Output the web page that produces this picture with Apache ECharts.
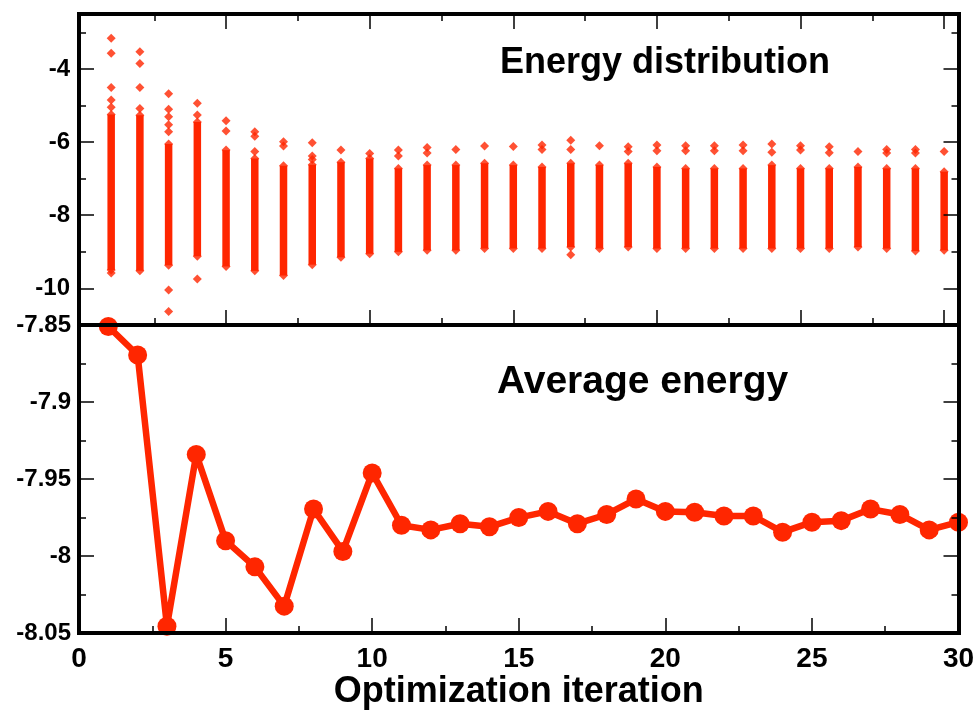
<!DOCTYPE html>
<html>
<head>
<meta charset="utf-8">
<script src="https://cdn.jsdelivr.net/npm/echarts@6/dist/echarts.min.js"></script>
<style>
  html, body { margin: 0; padding: 0; background: #fff; }
  #chart { width: 978px; height: 711px; }
</style>
</head>
<body>
<div id="chart"></div>
<script>
// ---------- data ----------
const iterations = [1,2,3,4,5,6,7,8,9,10,11,12,13,14,15,16,17,18,19,20,21,22,23,24,25,26,27,28,29,30];

// Average energy per iteration (bottom panel)
const avgEnergy = [-7.851, -7.8695, -8.0455, -7.934, -7.990, -8.007, -8.0325, -7.9695, -7.997, -7.946,
                   -7.980, -7.983, -7.979, -7.981, -7.975, -7.971, -7.979, -7.973, -7.963, -7.971,
                   -7.9715, -7.974, -7.974, -7.9845, -7.978, -7.977, -7.9695, -7.973, -7.983, -7.978];

// Energy distribution (top panel): dense band of samples per iteration (top / bottom of band)
const bandHi = [-5.25, -5.27, -6.05, -5.45, -6.22, -6.45, -6.65, -6.62, -6.55, -6.45,
                -6.72, -6.63, -6.63, -6.58, -6.63, -6.68, -6.58, -6.63, -6.58, -6.68,
                -6.72, -6.72, -6.72, -6.63, -6.72, -6.72, -6.68, -6.72, -6.72, -6.81];
const bandLo = [-9.50, -9.52, -9.37, -9.12, -9.40, -9.52, -9.65, -9.35, -9.15, -9.05,
                -9.00, -8.96, -8.96, -8.91, -8.91, -8.91, -8.87, -8.91, -8.87, -8.91,
                -8.91, -8.91, -8.91, -8.91, -8.91, -8.91, -8.87, -8.91, -8.98, -8.96];

// isolated samples outside the dense band: [iteration, energy]
const outliers = [
  [1,-3.16],[1,-3.57],[1,-4.51],[1,-4.85],[1,-5.05],[1,-9.58],
  [2,-3.53],[2,-3.85],[2,-4.51],[2,-5.08],
  [3,-4.68],[3,-5.10],[3,-5.31],[3,-5.53],[3,-5.72],[3,-10.04],[3,-10.63],
  [4,-4.94],[4,-5.26],[4,-9.74],
  [5,-5.42],[5,-5.70],
  [6,-5.72],[6,-5.84],[6,-6.26],
  [7,-5.99],[7,-6.11],
  [8,-6.02],[8,-6.38],[8,-6.48],
  [9,-6.22],
  [10,-6.31],
  [11,-6.22],[11,-6.38],
  [12,-6.15],[12,-6.30],
  [13,-6.20],
  [14,-6.11],
  [15,-6.12],
  [16,-6.08],[16,-6.20],
  [17,-5.95],[17,-6.20],[17,-9.08],
  [18,-6.10],
  [19,-6.13],[19,-6.26],
  [20,-6.08],[20,-6.24],
  [21,-6.10],[21,-6.24],
  [22,-6.10],[22,-6.24],
  [23,-6.08],[23,-6.24],
  [24,-6.05],[24,-6.28],
  [25,-6.10],[25,-6.22],
  [26,-6.13],[26,-6.29],
  [27,-6.26],
  [28,-6.20],[28,-6.30],
  [29,-6.20],[29,-6.30],
  [30,-6.26]
];

// tick values
const topXMajor = [5,10,15,20,25,30];
const topXMinor = [2.5,7.5,12.5,17.5,22.5,27.5];
const topYMajor = [-10,-8,-6,-4];
const topYMinor = [-9,-7,-5,-3];

// ---------- styling ----------
const RED = '#ff2600';
const FONT = 'Liberation Sans, Arial, sans-serif';
const lineStyle = { color: '#000', width: 4, cap: 'square' };

function topX(position, ticks, len, showLine) {
  return {
    type: 'value', gridIndex: 0, position: position, min: -0.12, max: 30.5,
    z: 5,
    axisLine: { show: showLine, onZero: false, lineStyle: lineStyle },
    axisTick: { show: true, inside: true, length: len, customValues: ticks, lineStyle: { color: '#000', width: 1.5 } },
    axisLabel: { show: false },
    splitLine: { show: false }
  };
}
function topY(position, ticks, len, showLine, showLabel) {
  return {
    type: 'value', gridIndex: 0, position: position, min: -11, max: -2.5,
    z: 5,
    axisLine: { show: showLine, onZero: false, lineStyle: lineStyle },
    axisTick: { show: true, inside: true, length: len, customValues: ticks, lineStyle: { color: '#000', width: 1.5 } },
    axisLabel: showLabel ? { show: true, customValues: ticks, margin: 9, fontFamily: FONT, fontWeight: 'bold', fontSize: 24, color: '#000' } : { show: false },
    splitLine: { show: false }
  };
}
function botY(position, showLabel) {
  return {
    type: 'value', gridIndex: 1, position: position, min: -8.05, max: -7.85, interval: 0.05,
    z: 5,
    axisLine: { show: true, onZero: false, lineStyle: lineStyle },
    axisTick: { show: true, inside: true, length: 15, lineStyle: { color: '#000', width: 1.5 } },
    minorTick: { show: true, splitNumber: 2, length: 7, lineStyle: { color: '#000', width: 1.5 } },
    axisLabel: showLabel ? { show: true, margin: 8, fontFamily: FONT, fontWeight: 'bold', fontSize: 24, color: '#000' } : { show: false },
    splitLine: { show: false }, minorSplitLine: { show: false }
  };
}

const chart = echarts.init(document.getElementById('chart'), null, { renderer: 'canvas' });

const option = {
  backgroundColor: '#fff',
  animation: false,
  title: [
    { text: 'Energy distribution', left: 500, top: 45, padding: 0,
      textStyle: { fontFamily: FONT, fontWeight: 'bold', fontSize: 36, color: '#000' } },
    { text: 'Average energy', left: 497, top: 363, padding: 0,
      textStyle: { fontFamily: FONT, fontWeight: 'bold', fontSize: 39, color: '#000' } }
  ],
  grid: [
    { left: 79, top: 14, width: 879.5, height: 311, containLabel: false },
    { left: 79, top: 325, width: 879.5, height: 309, containLabel: false }
  ],
  xAxis: [
    topX('bottom', topXMajor, 15, true),
    topX('bottom', topXMinor, 7, false),
    topX('top', topXMajor, 15, true),
    topX('top', topXMinor, 7, false),
    {
      type: 'value', gridIndex: 1, position: 'bottom', min: 0, max: 30, interval: 5,
      z: 5,
      axisLine: { show: true, onZero: false, lineStyle: lineStyle },
      axisTick: { show: true, inside: true, length: 15, lineStyle: { color: '#000', width: 1.5 } },
      minorTick: { show: true, splitNumber: 2, length: 7, lineStyle: { color: '#000', width: 1.5 } },
      axisLabel: { show: true, margin: 12, fontFamily: FONT, fontWeight: 'bold', fontSize: 28, color: '#000' },
      splitLine: { show: false }, minorSplitLine: { show: false },
      name: 'Optimization iteration', nameLocation: 'middle', nameGap: 39,
      nameTextStyle: { fontFamily: FONT, fontWeight: 'bold', fontSize: 36, color: '#000' }
    }
  ],
  yAxis: [
    topY('left', topYMajor, 15, true, true),
    topY('left', topYMinor, 7, false, false),
    topY('right', topYMajor, 15, true, false),
    topY('right', topYMinor, 7, false, false),
    botY('left', true),
    botY('right', false)
  ],
  series: [
    {
      type: 'custom', name: 'band', xAxisIndex: 0, yAxisIndex: 0,
      data: iterations.map((it, i) => [it, bandLo[i], bandHi[i]]),
      encode: { x: 0, y: [1, 2] },
      renderItem: function (params, api) {
        const x = api.value(0);
        const pTop = api.coord([x, api.value(2)]);
        const pBot = api.coord([x, api.value(1)]);
        const w = 7.5;
        return {
          type: 'rect',
          shape: { x: pTop[0] - w / 2, y: pTop[1], width: w, height: pBot[1] - pTop[1] },
          style: { fill: RED }
        };
      },
      z: 2
    },
    {
      type: 'scatter', name: 'band ends', xAxisIndex: 0, yAxisIndex: 0,
      symbol: 'diamond', symbolSize: [9, 9],
      itemStyle: { color: RED },
      data: iterations.map((it, i) => [it, bandHi[i]]).concat(iterations.map((it, i) => [it, bandLo[i]])),
      z: 3
    },
    {
      type: 'scatter', name: 'samples', xAxisIndex: 0, yAxisIndex: 0,
      symbol: 'diamond', symbolSize: [9, 9],
      itemStyle: { color: RED },
      data: outliers,
      z: 3
    },
    {
      type: 'line', name: 'Average energy', xAxisIndex: 4, yAxisIndex: 4,
      data: iterations.map((it, i) => [it, avgEnergy[i]]),
      symbol: 'circle', symbolSize: 19, showAllSymbol: true,
      lineStyle: { color: RED, width: 6.5 },
      itemStyle: { color: RED },
      clip: false,
      z: 3
    }
  ]
};
chart.setOption(option);
</script>
</body>
</html>
